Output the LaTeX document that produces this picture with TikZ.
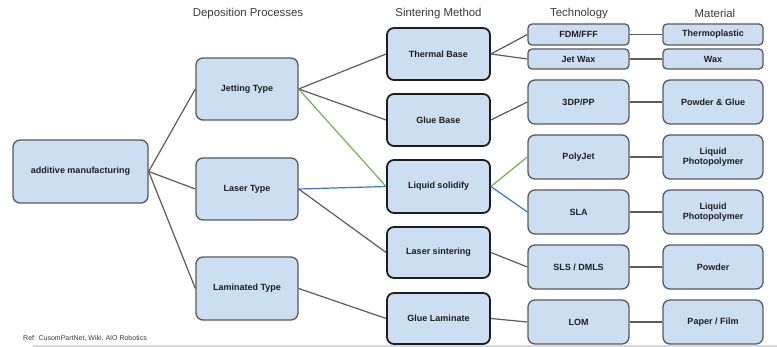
\documentclass[tikz,border=0pt]{standalone}
\usepackage{fontspec}
\setmainfont{Liberation Sans}
\definecolor{boxfill}{HTML}{CCDEF2}
\definecolor{boxline}{HTML}{5A5A5A}
\definecolor{sline}{HTML}{1E1E1E}
\definecolor{linegray}{HTML}{5C5C5C}
\definecolor{lgreen}{HTML}{76B155}
\definecolor{lblue}{HTML}{3D74C9}
\definecolor{txt}{HTML}{1F1F1F}
\definecolor{head}{HTML}{3A3A3A}
\begin{document}
\begin{tikzpicture}[x=1pt,y=-1pt,
  box/.style={draw=boxline, line width=1.3pt, fill=boxfill, rounded corners=7pt,
    font=\fontsize{9}{10.5}\selectfont\bfseries, text=txt, align=center, inner sep=1pt},
  sbox/.style={box, draw=sline, line width=1.8pt},
  thin/.style={box, rounded corners=4pt},
  con/.style={draw=linegray, line width=1.2pt},
  gcon/.style={draw=lgreen, line width=1.2pt},
  bcon/.style={draw=lblue, line width=1.2pt},
  hdr/.style={font=\fontsize{11.4}{13}\selectfont, text=head, inner sep=0pt}]
\useasboundingbox (0,0) rectangle (777,347);
\fill[white] (0,0) rectangle (777,347);
% headers
\node[hdr] (h1) at (248,13.5) {Deposition Processes};
\node[hdr] (h2) at (438.5,13.5) {Sintering Method};
\node[hdr] (h3) at (579,13.5) {Technology};
\node[hdr] (h4) at (715,13.5) {Material};
% column 1
\node[box, minimum width=135pt, minimum height=63pt] (am) at (80.5,171.5) {additive manufacturing};
% column 2
\node[box, minimum width=102pt, minimum height=62pt] (jet) at (247,89) {Jetting Type};
\node[box, minimum width=102pt, minimum height=62pt] (las) at (247,189) {Laser Type};
\node[box, minimum width=102pt, minimum height=63pt] (lam) at (247,288.5) {Laminated Type};
% column 3
\node[sbox, minimum width=103pt, minimum height=52pt] (tb) at (438.5,54) {Thermal Base};
\node[sbox, minimum width=103pt, minimum height=52pt] (gb) at (438.5,120) {Glue Base};
\node[sbox, minimum width=103pt, minimum height=53pt] (ls) at (438.5,186.5) {Liquid solidify};
\node[sbox, minimum width=103pt, minimum height=51pt] (lsn) at (438.5,252.5) {Laser sintering};
\node[sbox, minimum width=103pt, minimum height=51pt] (gl) at (438.5,318.5) {Glue Laminate};
% column 4
\node[thin, minimum width=101pt, minimum height=21pt] (fdm) at (578.5,34.5) {FDM/FFF};
\node[thin, minimum width=101pt, minimum height=20pt] (jw) at (578.5,59) {Jet Wax};
\node[box, minimum width=101pt, minimum height=44pt] (p3d) at (578.5,102) {3DP/PP};
\node[box, minimum width=101pt, minimum height=44pt] (pj) at (578.5,157) {PolyJet};
\node[box, minimum width=101pt, minimum height=44pt] (sla) at (578.5,212) {SLA};
\node[box, minimum width=101pt, minimum height=44pt] (sls) at (578.5,267) {SLS / DMLS};
\node[box, minimum width=101pt, minimum height=44pt] (lom) at (578.5,322) {LOM};
% column 5
\node[thin, minimum width=100pt, minimum height=21pt] (tp) at (713,34.5) {Thermoplastic};
\node[thin, minimum width=100pt, minimum height=20pt] (wax) at (713,59) {Wax};
\node[box, minimum width=100pt, minimum height=44pt] (pg) at (713,102) {Powder \& Glue};
\node[box, minimum width=100pt, minimum height=44pt] (lp1) at (713,157) {Liquid\\Photopolymer};
\node[box, minimum width=100pt, minimum height=44pt] (lp2) at (713,212) {Liquid\\Photopolymer};
\node[box, minimum width=100pt, minimum height=44pt] (pow) at (713,267) {Powder};
\node[box, minimum width=100pt, minimum height=44pt] (pf) at (713,322) {Paper / Film};
% connectors
\draw[con] (am.east) -- (jet.west);
\draw[con] (am.east) -- (las.west);
\draw[con] (am.east) -- (lam.west);
\draw[con] (jet.east) -- (tb.west);
\draw[con] (jet.east) -- (gb.west);
\draw[gcon] (jet.east) -- (ls.west);
\draw[bcon] (las.east) -- (ls.west);
\draw[con] (las.east) -- (lsn.west);
\draw[con] (lam.east) -- (gl.west);
\draw[con] (tb.east) -- (fdm.west);
\draw[con] (tb.east) -- (jw.west);
\draw[con] (gb.east) -- (p3d.west);
\draw[gcon] (ls.east) -- (pj.west);
\draw[bcon] (ls.east) -- (sla.west);
\draw[con] (lsn.east) -- (sls.west);
\draw[con] (gl.east) -- (lom.west);
\draw[con] (fdm.east) -- (tp.west);
\draw[con] (jw.east) -- (wax.west);
\draw[con] (p3d.east) -- (pg.west);
\draw[con] (pj.east) -- (lp1.west);
\draw[con] (sla.east) -- (lp2.west);
\draw[con] (sls.east) -- (pow.west);
\draw[con] (lom.east) -- (pf.west);
% reference note and bottom rule
\node[anchor=west, font=\fontsize{7}{8}\selectfont, text=head, inner sep=0pt] (ref) at (23,338.5) {Ref: CusomPartNet, Wiki, AIO Robotics};
\draw[black!15, line width=1.2pt] (33,346) -- (777,346);
\end{tikzpicture}
\end{document}
